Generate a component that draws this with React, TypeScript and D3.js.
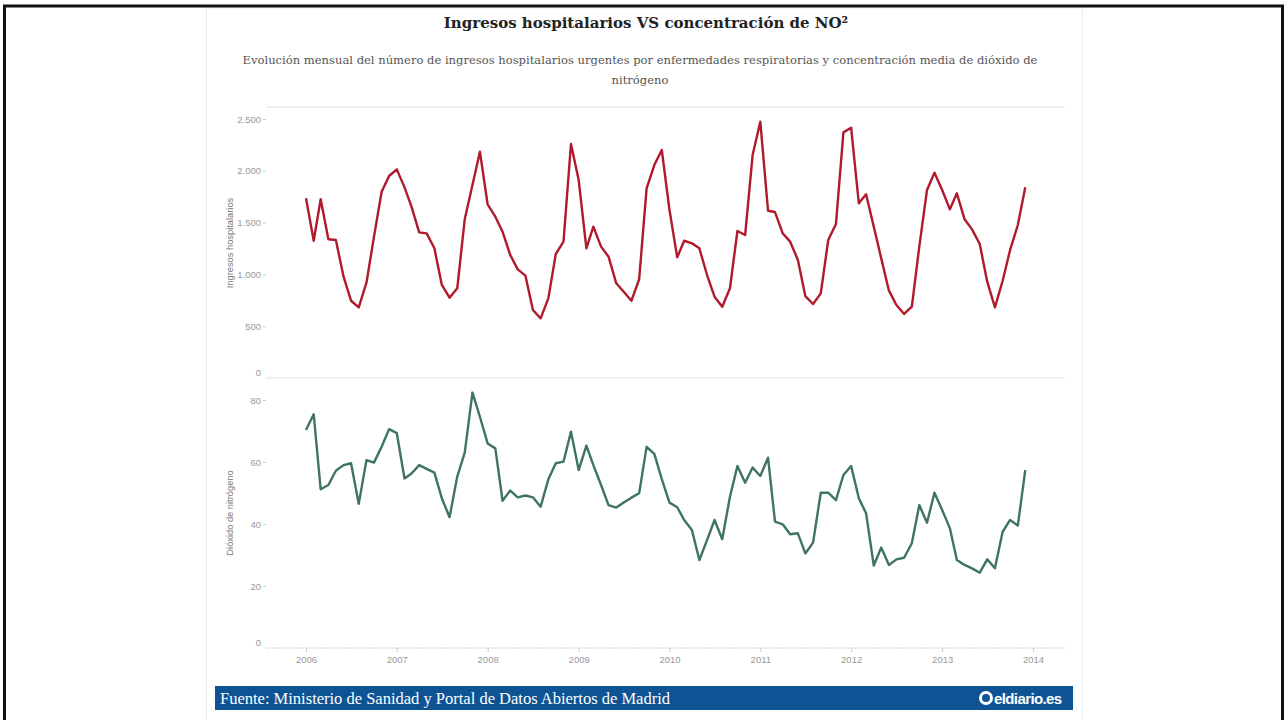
import React, { useEffect, useRef } from 'react';
import * as d3 from 'd3';

// monthly values, Jan 2006 .. Dec 2013
const ingresos = [
  1735, 1325, 1725, 1339, 1332, 978, 746, 682, 920, 1360, 1798, 1950,
  2014, 1840, 1654, 1406, 1396, 1252, 898, 775, 866, 1532, 1863, 2185,
  1677, 1557, 1412, 1187, 1049, 988, 656, 576, 769, 1197, 1316, 2259,
  1911, 1252, 1461, 1268, 1171, 914, 833, 746, 952, 1831, 2056, 2201,
  1622, 1165, 1325, 1300, 1252, 994, 785, 688, 866, 1419, 1380, 2152,
  2474, 1615, 1602, 1396, 1316, 1139, 791, 714, 817, 1332, 1486, 2371,
  2416, 1686, 1773, 1461, 1155, 843, 705, 618, 688, 1268, 1815, 1982,
  1815, 1628, 1783, 1532, 1435, 1293, 930, 682, 939, 1236, 1477, 1841,
];

const no2 = [
  70.3, 75.4, 51.2, 52.6, 57.2, 59.0, 59.6, 46.5, 60.6, 59.8, 64.9, 70.6,
  69.3, 54.7, 56.3, 59.0, 57.8, 56.6, 48.3, 42.2, 55.3, 63.0, 82.4, 74.6,
  66.0, 64.4, 47.5, 50.8, 48.6, 49.2, 48.6, 45.6, 54.4, 59.6, 60.1, 69.8,
  57.4, 65.3, 59.0, 52.6, 46.1, 45.3, 46.9, 48.5, 49.9, 64.9, 62.6, 54.5,
  46.9, 45.4, 41.3, 38.1, 28.4, 34.8, 41.3, 35.1, 48.8, 58.7, 53.3, 58.2,
  55.5, 61.4, 40.8, 39.9, 36.7, 37.0, 30.5, 34.0, 50.1, 50.1, 47.7, 55.8,
  58.7, 48.3, 43.5, 26.6, 32.4, 26.8, 28.6, 29.1, 33.8, 46.1, 40.4, 50.1,
  44.5, 38.6, 28.4, 26.8, 25.7, 24.3, 28.6, 25.7, 37.5, 41.3, 39.5, 57.4,
];

const startYear = 2006;
const yearTicks = [2006, 2007, 2008, 2009, 2010, 2011, 2012, 2013, 2014];
const ingresosTicks = [0, 500, 1000, 1500, 2000, 2500];
const no2Ticks = [0, 20, 40, 60, 80];

const title = 'Ingresos hospitalarios VS concentración de NO²';
const subtitle = [
  'Evolución mensual del número de ingresos hospitalarios urgentes por enfermedades respiratorias y concentración media de dióxido de',
  'nitrógeno',
];
const fuente = 'Fuente: Ministerio de Sanidad y Portal de Datos Abiertos de Madrid';

const W = 1286;
const H = 720;

export default function App() {
  const ref = useRef<SVGSVGElement>(null);

  useEffect(() => {
    const svg = d3.select(ref.current);
    svg.selectAll('*').remove();

    const left = 266, right = 1065;
    const topY = 107, midY = 378, botY = 648;

    const months = ingresos.map((_, i) => new Date(startYear, i, 1));
    const x = d3.scaleTime()
      .domain([new Date(yearTicks[0], 0, 1), new Date(yearTicks[yearTicks.length - 1], 0, 1)])
      .range([306, 1033]);
    const yTop = d3.scaleLinear().domain([0, 2616]).range([midY, topY]);
    const yBot = d3.scaleLinear().domain([0, 87.1]).range([botY, midY]);

    const es = d3.formatLocale({ decimal: ',', thousands: '.', grouping: [3], currency: ['', '€'] });
    const fmt = es.format(',d');

    // frame + card
    svg.append('rect').attr('width', W).attr('height', H).attr('fill', '#fff');
    svg.append('rect').attr('x', 206.5).attr('y', 8).attr('width', 876).attr('height', 720)
      .attr('fill', '#fff').attr('stroke', '#ececec');
    svg.append('rect').attr('x', 4.5).attr('y', 6).attr('width', 1278).attr('height', 730)
      .attr('fill', 'none').attr('stroke', '#111').attr('stroke-width', 3);

    // titles
    svg.append('text').attr('x', 646).attr('y', 28).attr('text-anchor', 'middle')
      .attr('font-family', 'DejaVu Serif').attr('font-weight', 'bold').attr('font-size', 15)
      .attr('fill', '#222').text(title);
    svg.selectAll('.sub').data(subtitle).join('text')
      .attr('class', 'sub')
      .attr('x', 640).attr('y', (d, i) => 64 + i * 20).attr('text-anchor', 'middle')
      .attr('font-family', 'DejaVu Serif').attr('font-size', 11.55).attr('fill', '#555')
      .text(d => d);

    // panel lines
    [topY, midY].forEach(yy => {
      svg.append('line').attr('x1', left).attr('x2', right).attr('y1', yy).attr('y2', yy)
        .attr('stroke', '#e2e2e2');
    });

    const axisFont = (g) => g.selectAll('text')
      .attr('font-family', 'Liberation Sans, Arial, sans-serif').attr('font-size', 9.5).attr('fill', '#999');

    const yAxisTop = svg.append('g').attr('transform', `translate(${left},0)`)
      .call(d3.axisLeft(yTop).tickValues(ingresosTicks).tickSize(3).tickPadding(2).tickFormat(fmt));
    const yAxisBot = svg.append('g').attr('transform', `translate(${left},0)`)
      .call(d3.axisLeft(yBot).tickValues(no2Ticks).tickSize(3).tickPadding(2));
    [yAxisTop, yAxisBot].forEach(g => {
      g.select('.domain').remove();
      g.selectAll('line').attr('stroke', '#ccc');
      axisFont(g);
      // zero label sits above its baseline
      g.selectAll('.tick').filter(d => d === 0).select('text').attr('dy', '-0.3em');
      g.selectAll('.tick').filter(d => d === 0).select('line').remove();
    });

    const xAxis = svg.append('g').attr('transform', `translate(0,${botY})`)
      .call(d3.axisBottom(x).tickValues(yearTicks.map(y => new Date(y, 0, 1))).tickSize(4).tickPadding(4)
        .tickFormat(d3.timeFormat('%Y')));
    xAxis.select('.domain').attr('d', `M${left},0H${right}`).attr('stroke', '#ccc')
      .attr('stroke-dasharray', '2,1');
    xAxis.selectAll('line').attr('stroke', '#ccc');
    axisFont(xAxis);

    // axis titles
    svg.append('text').attr('transform', 'translate(233,243) rotate(-90)').attr('text-anchor', 'middle')
      .attr('font-family', 'Liberation Sans, Arial, sans-serif').attr('font-size', 9.3).attr('fill', '#777')
      .text('Ingresos hospitalarios');
    svg.append('text').attr('transform', 'translate(233,513) rotate(-90)').attr('text-anchor', 'middle')
      .attr('font-family', 'Liberation Sans, Arial, sans-serif').attr('font-size', 9.3).attr('fill', '#777')
      .text('Dióxido de nitrógeno');

    // lines
    const lineTop = d3.line<number>().x((_, i) => x(months[i])).y(d => yTop(d));
    const lineBot = d3.line<number>().x((_, i) => x(months[i])).y(d => yBot(d));
    svg.append('path').datum(ingresos).attr('d', lineTop).attr('fill', 'none')
      .attr('stroke', '#b01a2c').attr('stroke-width', 2.4).attr('stroke-linejoin', 'round');
    svg.append('path').datum(no2).attr('d', lineBot).attr('fill', 'none')
      .attr('stroke', '#3f7461').attr('stroke-width', 2.4).attr('stroke-linejoin', 'round');

    // footer
    svg.append('rect').attr('x', 215).attr('y', 686).attr('width', 858).attr('height', 24).attr('fill', '#0e5494');
    svg.append('text').attr('x', 220).attr('y', 704).attr('font-family', 'Liberation Serif, serif')
      .attr('font-size', 16.5).attr('fill', '#fff').text(fuente);
    svg.append('circle').attr('cx', 986).attr('cy', 698).attr('r', 5.5).attr('fill', 'none')
      .attr('stroke', '#fff').attr('stroke-width', 3);
    svg.append('text').attr('x', 994).attr('y', 703.5).attr('font-family', 'Liberation Sans, Arial, sans-serif')
      .attr('font-weight', 'bold').attr('font-size', 15).attr('letter-spacing', -0.6).attr('fill', '#fff')
      .text('eldiario.es');
  }, []);

  return (
    <svg ref={ref} width={W} height={H} style={{ position: 'absolute', left: 0, top: 0 }} />
  );
}
